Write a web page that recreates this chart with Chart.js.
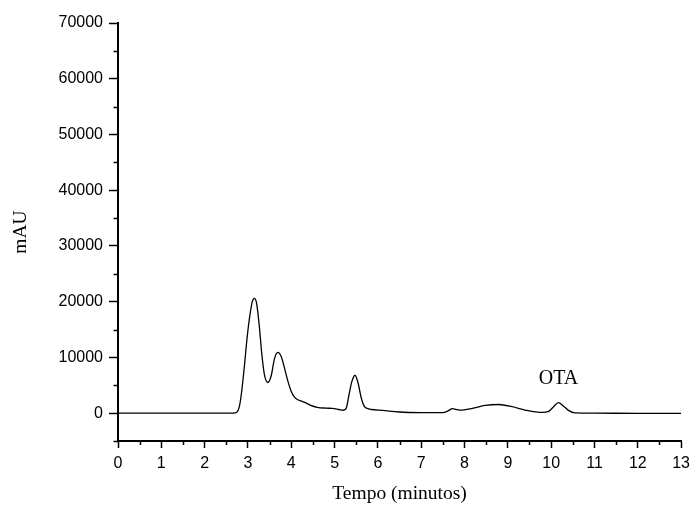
<!DOCTYPE html>
<html>
<head>
<meta charset="utf-8">
<script src="https://cdn.jsdelivr.net/npm/chart.js@4"></script>
<style>
html,body{margin:0;padding:0;background:#fff;}
#wrap{width:696px;height:508px;}
</style>
</head>
<body>
<div id="wrap"><canvas id="c" width="696" height="508"></canvas></div>
<script>
// Retention time (minutes)
const times = [0, 1, 2, 2.6, 2.70, 2.76, 2.81, 2.86, 2.92, 2.98, 3.04, 3.10, 3.15, 3.20, 3.26, 3.32, 3.38, 3.46, 3.54, 3.61, 3.69, 3.77, 3.84, 3.92, 4.00, 4.07, 4.15, 4.25, 4.35, 4.45, 4.60, 4.80, 4.95, 5.10, 5.20, 5.27, 5.33, 5.40, 5.47, 5.54, 5.61, 5.68, 5.75, 5.85, 6.10, 6.49, 7.0, 7.5, 7.62, 7.72, 7.85, 7.95, 8.18, 8.48, 8.79, 9.10, 9.40, 9.79, 9.94, 10.05, 10.17, 10.28, 10.40, 10.55, 11, 12, 13];
// Detector signal (mAU)
const signal = [0, 0, 0, 0, 50, 300, 1500, 4200, 8600, 13500, 17300, 20000, 20600, 19700, 15800, 10600, 6900, 5500, 6800, 9700, 10900, 10100, 8200, 5800, 3900, 2900, 2400, 2100, 1800, 1400, 1050, 900, 840, 650, 520, 900, 3200, 5700, 6800, 5500, 2900, 1300, 850, 650, 500, 200, 100, 100, 400, 800, 600, 550, 850, 1400, 1550, 1150, 550, 120, 300, 1100, 1900, 1300, 500, 50, 0, -50, -50];

const yMajorTicks = [0, 10000, 20000, 30000, 40000, 50000, 60000, 70000];
const yMinorTicks = [-5000, 5000, 15000, 25000, 35000, 45000, 55000, 65000];
const xMajorTicks = [0, 1, 2, 3, 4, 5, 6, 7, 8, 9, 10, 11, 12, 13];
const xMinorTicks = [0.5, 1.5, 2.5, 3.5, 4.5, 5.5, 6.5, 7.5, 8.5, 9.5, 10.5, 11.5, 12.5];

const xTitle = 'Tempo (minutos)';
const yTitle = 'mAU';
const peakLabel = {text: 'OTA', t: 10.17, v: 6250};

const points = times.map((t, i) => ({x: t, y: signal[i]}));

const SANS = "'Liberation Sans', Arial, Helvetica, sans-serif";
const SERIF = "'Liberation Serif', 'Times New Roman', Times, serif";

const minorTicksPlugin = {
  id: 'minorTicks',
  afterDraw(chart) {
    const {ctx, chartArea, scales} = chart;
    ctx.save();
    ctx.strokeStyle = '#000';
    ctx.lineWidth = 1.5;
    ctx.beginPath();
    yMinorTicks.forEach(v => {
      const y = Math.round(scales.y.getPixelForValue(v)) + 0.5;
      ctx.moveTo(chartArea.left - 4.5, y);
      ctx.lineTo(chartArea.left, y);
    });
    xMinorTicks.forEach(v => {
      const x = Math.round(scales.x.getPixelForValue(v)) + 0.5;
      ctx.moveTo(x, chartArea.bottom);
      ctx.lineTo(x, chartArea.bottom + 4);
    });
    ctx.stroke();
    ctx.restore();
  }
};

const labelPlugin = {
  id: 'peakLabel',
  afterDatasetsDraw(chart) {
    const {ctx, scales} = chart;
    ctx.save();
    ctx.fillStyle = '#000';
    ctx.font = '20px ' + SERIF;
    ctx.textAlign = 'center';
    ctx.textBaseline = 'middle';
    ctx.fillText(peakLabel.text, scales.x.getPixelForValue(peakLabel.t), scales.y.getPixelForValue(peakLabel.v));
    ctx.restore();
  }
};

new Chart(document.getElementById('c'), {
  type: 'line',
  data: {
    datasets: [{
      data: points,
      borderColor: '#000',
      borderWidth: 1.3,
      pointRadius: 0,
      fill: false,
      cubicInterpolationMode: 'monotone'
    }]
  },
  options: {
    responsive: false,
    animation: false,
    devicePixelRatio: 1,
    layout: {padding: {left: 0, top: 23, right: 13, bottom: 0}},
    plugins: {legend: {display: false}, tooltip: {enabled: false}},
    scales: {
      x: {
        type: 'linear',
        min: 0, max: 13,
        afterFit(scale) { scale.height = 67; },
        afterBuildTicks(scale) { scale.ticks = xMajorTicks.map(v => ({value: v})); },
        ticks: {
          color: '#000', padding: 6, maxRotation: 0, autoSkip: false,
          font: {family: SANS, size: 16},
          callback: v => String(v)
        },
        grid: {display: true, drawOnChartArea: false, drawTicks: true, tickLength: 7, tickColor: '#000', tickWidth: 1.5},
        border: {display: true, color: '#000', width: 2},
        title: {display: true, text: xTitle, color: '#000', font: {family: SERIF, size: 19.5}, padding: {top: 0, bottom: 2.3}}
      },
      y: {
        type: 'linear',
        min: -5000, max: 70000,
        afterFit(scale) { scale.width = 118; },
        afterBuildTicks(scale) { scale.ticks = yMajorTicks.map(v => ({value: v})); },
        ticks: {
          color: '#000', padding: 6, autoSkip: false,
          font: {family: SANS, size: 16},
          callback: v => String(v)
        },
        grid: {display: true, drawOnChartArea: false, drawTicks: true, tickLength: 9, tickColor: '#000', tickWidth: 1.5},
        border: {display: true, color: '#000', width: 2},
        title: {display: true, text: yTitle, color: '#000', font: {family: SERIF, size: 19.5}, padding: {top: 9, bottom: 0}}
      }
    }
  },
  plugins: [minorTicksPlugin, labelPlugin]
});
</script>
</body>
</html>
